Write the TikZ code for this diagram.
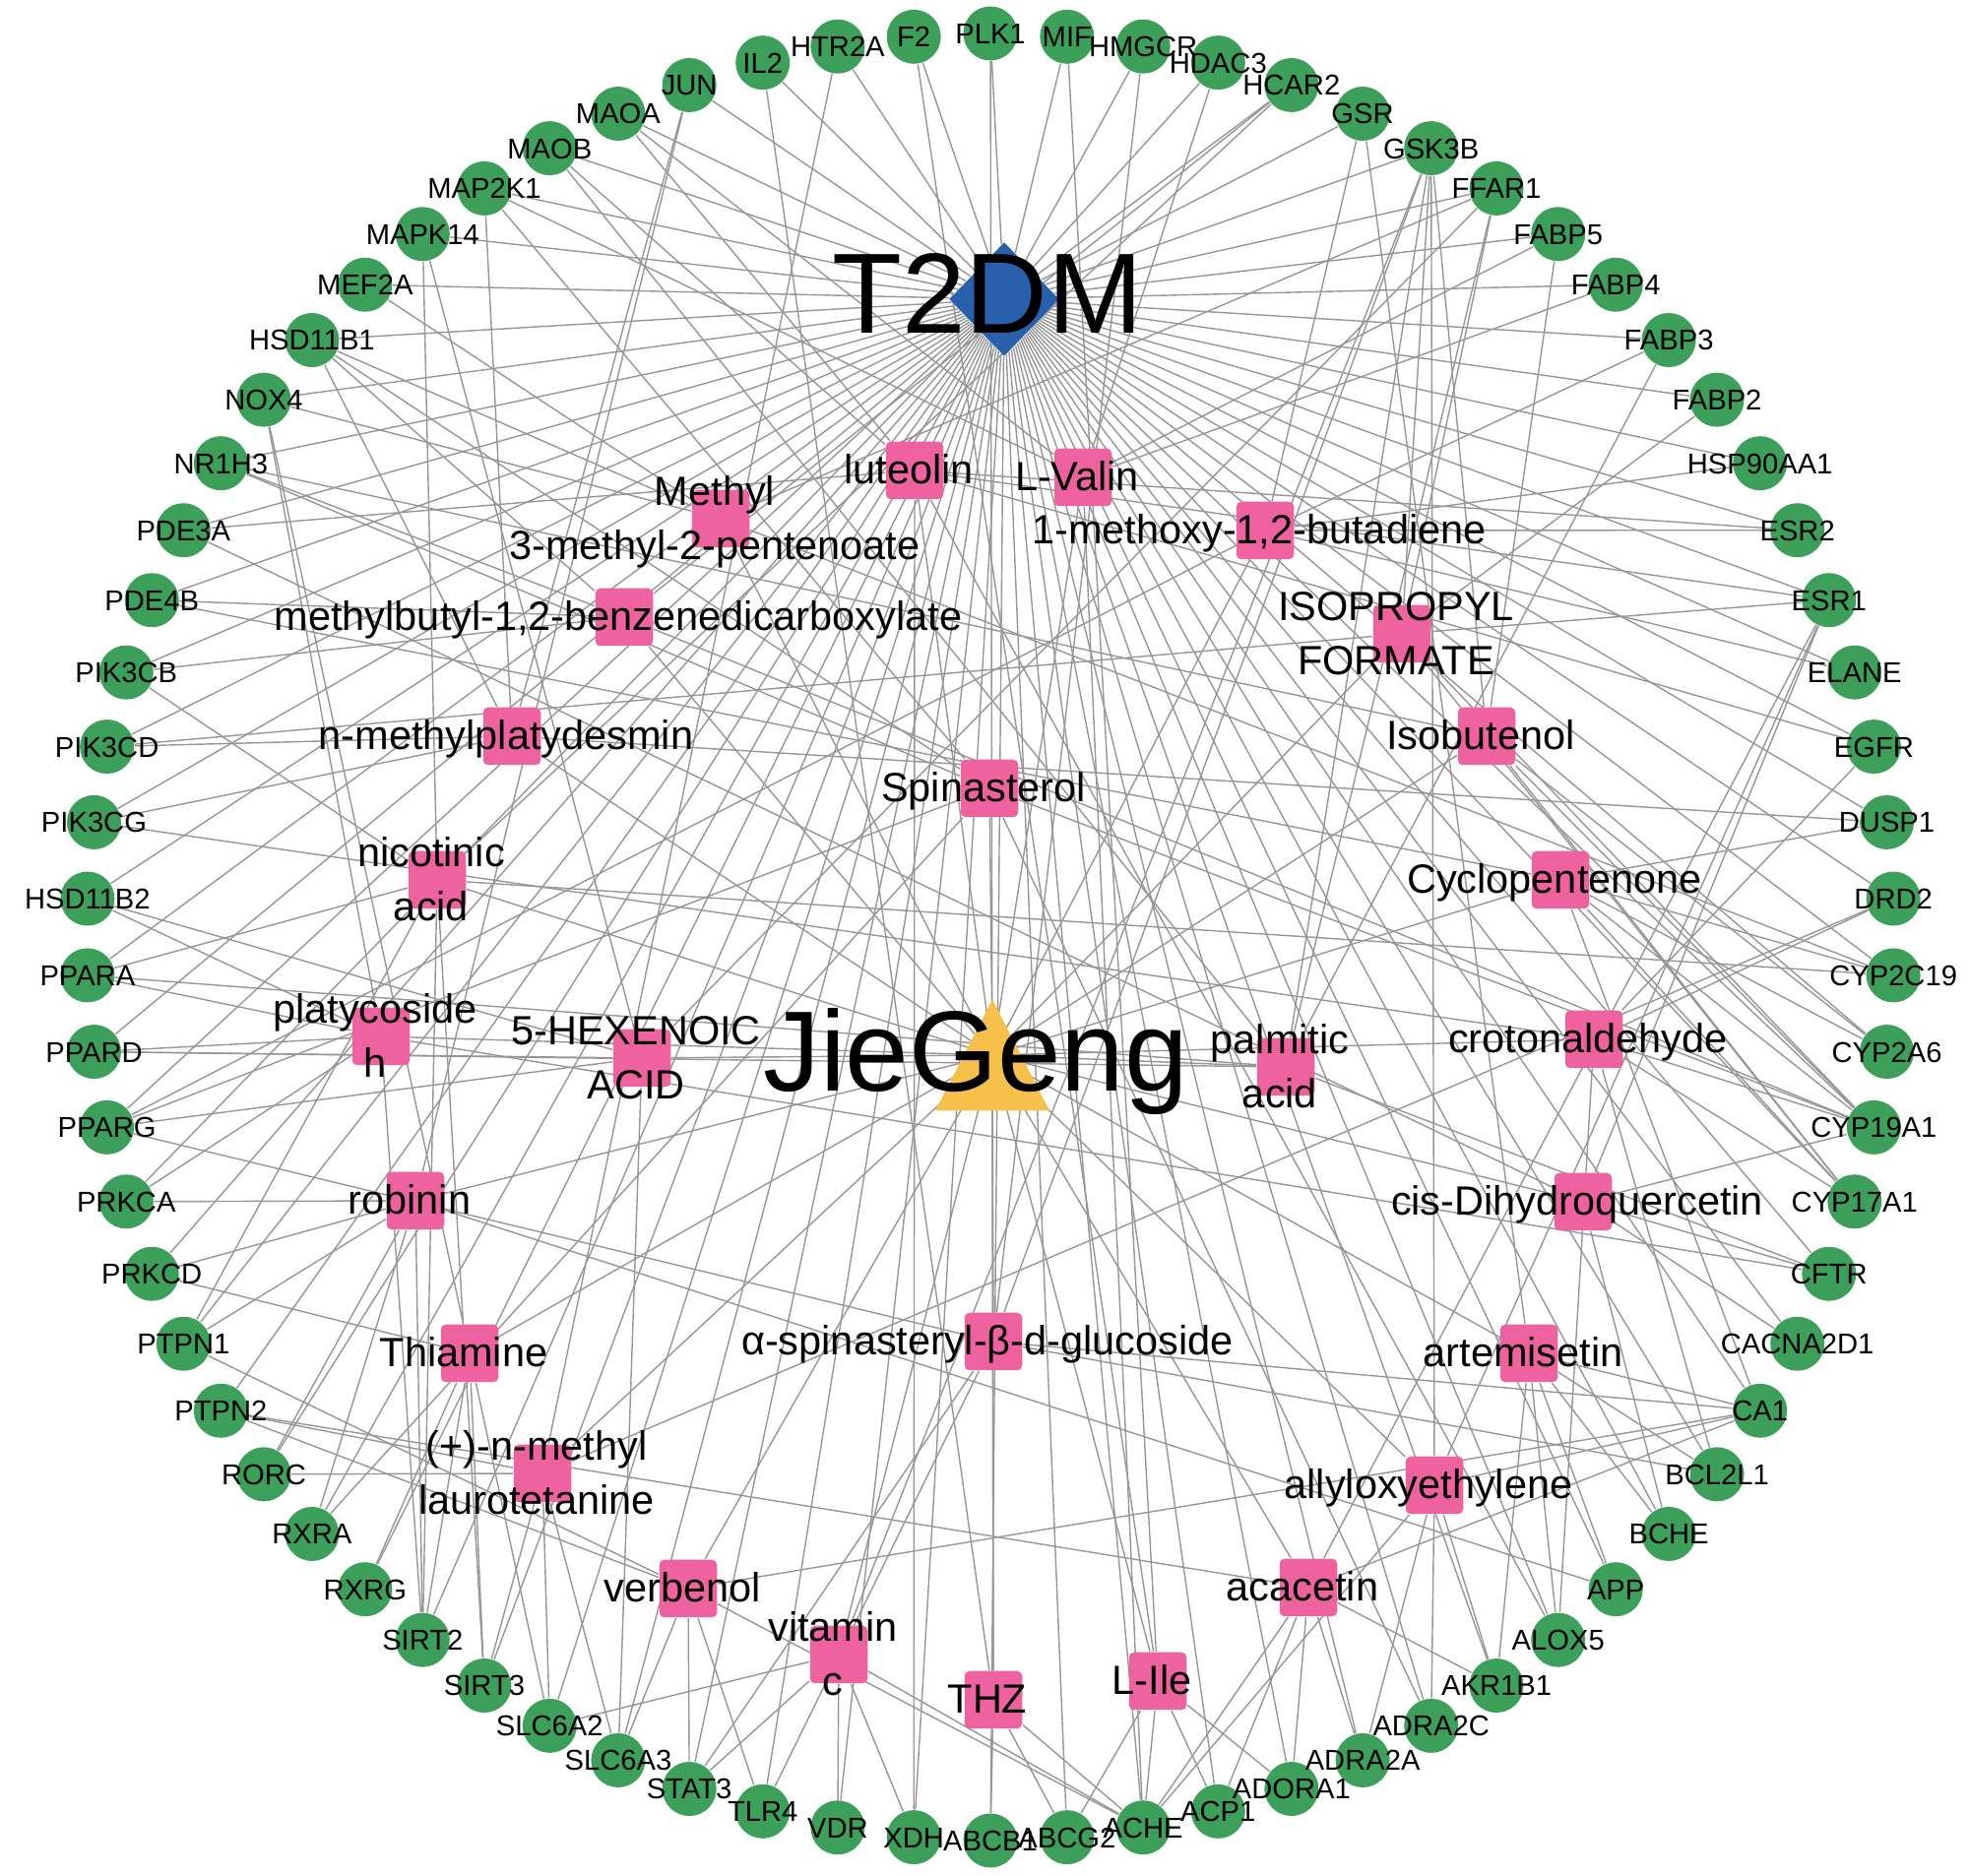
\documentclass[tikz,border=0pt]{standalone}
\usepackage{fontspec}
\setmainfont{Liberation Sans}
\usetikzlibrary{shapes.geometric,calc}
\pgfdeclarelayer{bg}
\pgfsetlayers{bg,main}
\definecolor{tgreen}{RGB}{60,160,90}
\definecolor{cpink}{RGB}{238,98,160}
\definecolor{dblue}{RGB}{40,96,172}
\definecolor{hyel}{RGB}{246,192,74}
\definecolor{edgegray}{RGB}{150,150,150}
\begin{document}
\begin{tikzpicture}[
  tgt/.style={circle,fill=tgreen,minimum size=0.55cm,inner sep=0pt},
  tlab/.style={font=\fontsize{8.3pt}{9pt}\selectfont,text height=5.94pt,text depth=0pt,inner sep=0pt},
  cmp/.style={rectangle,rounded corners=0.05cm,fill=cpink,minimum size=0.585cm,inner sep=0pt},
  clab/.style={font=\fontsize{11.8pt}{14pt}\selectfont,text height=7.8pt,text depth=0pt,inner sep=0pt,xshift=-0.06cm},
  biglab/.style={font=\fontsize{33pt}{36pt}\selectfont,text height=23.6pt,text depth=0pt,inner sep=0pt},
  lnk/.style={draw=edgegray,line width=0.4pt},
]
\useasboundingbox (0,0) rectangle (20,19.06);
\def\targets{ABCB1,ABCG2,ACHE,ACP1,ADORA1,ADRA2A,ADRA2C,AKR1B1,ALOX5,APP,BCHE,BCL2L1,CA1,CACNA2D1,CFTR,CYP17A1,CYP19A1,CYP2A6,CYP2C19,DRD2,DUSP1,EGFR,ELANE,ESR1,ESR2,HSP90AA1,FABP2,FABP3,FABP4,FABP5,FFAR1,GSK3B,GSR,HCAR2,HDAC3,HMGCR,MIF,PLK1,F2,HTR2A,IL2,JUN,MAOA,MAOB,MAP2K1,MAPK14,MEF2A,HSD11B1,NOX4,NR1H3,PDE3A,PDE4B,PIK3CB,PIK3CD,PIK3CG,HSD11B2,PPARA,PPARD,PPARG,PRKCA,PRKCD,PTPN1,PTPN2,RORC,RXRA,RXRG,SIRT2,SIRT3,SLC6A2,SLC6A3,STAT3,TLR4,VDR,XDH}
% targets on the ring
\begin{scope}[shift={(10.06,9.54)}]
\foreach \n [count=\i from 0] in \targets
  \node[tgt] (\n) at ({-90+\i*4.864865}:9.18) {};
\end{scope}
% compounds
\node[cmp] (lut) at (9.29,14.28) {};
\node[cmp] (val) at (11.00,14.21) {};
\node[cmp] (mpe) at (7.32,13.79) {};
\node[cmp] (mbd) at (12.85,13.67) {};
\node[cmp] (mbb) at (6.34,12.79) {};
\node[cmp] (ipf) at (14.24,12.62) {};
\node[cmp] (nmp) at (5.20,11.58) {};
\node[cmp] (isob) at (15.10,11.58) {};
\node[cmp] (spin) at (10.05,11.05) {};
\node[cmp] (nic) at (4.44,10.12) {};
\node[cmp] (cyc) at (15.85,10.12) {};
\node[cmp] (plh) at (3.87,8.53) {};
\node[cmp] (hex) at (6.52,8.31) {};
\node[cmp] (pal) at (13.06,8.22) {};
\node[cmp] (cro) at (16.19,8.50) {};
\node[cmp] (rob) at (4.22,6.86) {};
\node[cmp] (cdq) at (16.08,6.85) {};
\node[cmp] (thi) at (4.77,5.31) {};
\node[cmp] (asg) at (10.09,5.43) {};
\node[cmp] (art) at (15.53,5.31) {};
\node[cmp] (nml) at (5.51,4.09) {};
\node[cmp] (ally) at (14.57,3.97) {};
\node[cmp] (verb) at (6.99,2.92) {};
\node[cmp] (aca) at (13.29,2.93) {};
\node[cmp] (vitc) at (8.52,2.25) {};
\node[cmp] (thz) at (10.09,1.79) {};
\node[cmp] (ile) at (11.76,1.98) {};
% disease and herb
\node[diamond,fill=dblue,minimum width=1.12cm,minimum height=1.16cm,inner sep=0pt] (T2DM) at (10.20,16.02) {};
\coordinate (JG) at (10.08,8.34);
\fill[hyel] ($(JG)+(0,0.565)$) -- ($(JG)+(0.58,-0.565)$) -- ($(JG)+(-0.58,-0.565)$) -- cycle;
% edges
\begin{pgfonlayer}{bg}
\foreach \n in \targets \draw[lnk] (T2DM) -- (\n);
\foreach \c in {lut,val,mpe,mbd,mbb,ipf,nmp,isob,spin,nic,cyc,plh,hex,pal,cro,rob,cdq,thi,asg,art,nml,ally,verb,aca,vitc,thz,ile}
  \draw[lnk] (JG) -- (\c);
\foreach \c/\ts in {
  lut/{MAOA,MAOB,PDE3A,ESR1,ESR2,XDH,EGFR,ALOX5},
  val/{MAOA,MAP2K1,FABP4,FABP5,ACHE,HDAC3},
  mpe/{HSD11B1,NOX4,MEF2A,FFAR1,CYP2C19},
  mbd/{GSR,FABP3,HSP90AA1,ESR2,ELANE,PPARG},
  mbb/{HSD11B1,NR1H3,PDE4B,PIK3CB,HCAR2,CYP19A1},
  ipf/{GSK3B,FFAR1,FABP2,ESR1,CYP19A1,CYP17A1,PIK3CD},
  nmp/{MAP2K1,JUN,PIK3CD,PIK3CG,HSD11B1,DUSP1},
  isob/{GSK3B,FABP5,CYP2A6,CYP19A1,CYP17A1,NR1H3},
  spin/{MAP2K1,HSD11B1,NR1H3,PPARG,CYP19A1,RXRA,ADRA2C},
  nic/{MAPK14,HCAR2,PIK3CB,PPARA,PTPN1,SIRT2,SIRT3,CYP2C19},
  cyc/{DUSP1,CYP2C19,CYP2A6,CYP19A1,CYP17A1,PDE4B,CA1},
  plh/{HSD11B2,PPARA,PPARD,PRKCA,NOX4,SIRT2,CFTR},
  hex/{MAPK14,PPARD,PPARG,HSD11B2,FFAR1,SLC6A3},
  pal/{PPARD,PPARA,FABP3,FFAR1,GSK3B,MAOB,CFTR},
  cro/{DRD2,EGFR,CYP17A1,CYP19A1,ALOX5,BCL2L1,PIK3CG},
  rob/{JUN,PTPN1,PRKCA,PRKCD,RORC,RXRA,SIRT2,APP},
  cdq/{CACNA2D1,CFTR,BCHE,CYP19A1,ESR1,PDE3A},
  thi/{PRKCD,RXRG,SIRT2,SIRT3,NOX4,SLC6A2},
  asg/{GSK3B,HMGCR,TLR4,STAT3,BCL2L1,CA1,PPARG},
  art/{GSR,BCHE,BCL2L1,CA1,ALOX5,AKR1B1,APP},
  nml/{PTPN2,RORC,SIRT3,SLC6A2,SLC6A3,DRD2,HTR2A},
  ally/{GSK3B,CA1,AKR1B1,ADRA2C,ADRA2A,ACHE,ESR1},
  verb/{PTPN1,PTPN2,STAT3,TLR4,SLC6A3,CA1,ACHE},
  aca/{ADRA2A,ADORA1,AKR1B1,CA1,ACHE,ACP1,ESR1,PTPN2},
  vitc/{GSK3B,VDR,STAT3,ACHE,XDH,SLC6A2},
  thz/{ABCB1,ABCG2,ACHE,IL2,PLK1},
  ile/{ACHE,ACP1,ABCG2,ADORA1,F2,MIF}}
  \foreach \t in \ts \draw[lnk] (\c) -- (\t);
\end{pgfonlayer}
% target labels
\foreach \n in \targets \node[tlab] (\n-l) at (\n) {\n};
% compound labels
\node[clab] (lut-l) at (lut) {luteolin};
\node[clab] (val-l) at (val) {L-Valin};
\node[clab,yshift=0.275cm] (mpe-l1) at (mpe) {Methyl};
\node[clab,yshift=-0.275cm] (mpe-l2) at (mpe) {3-methyl-2-pentenoate};
\node[clab] (mbd-l) at (mbd) {1-methoxy-1,2-butadiene};
\node[clab] (mbb-l) at (mbb) {methylbutyl-1,2-benzenedicarboxylate};
\node[clab,yshift=0.275cm] (ipf-l1) at (ipf) {ISOPROPYL};
\node[clab,yshift=-0.275cm] (ipf-l2) at (ipf) {FORMATE};
\node[clab] (nmp-l) at (nmp) {n-methylplatydesmin};
\node[clab] (isob-l) at (isob) {Isobutenol};
\node[clab] (spin-l) at (spin) {Spinasterol};
\node[clab,yshift=0.275cm] (nic-l1) at (nic) {nicotinic};
\node[clab,yshift=-0.275cm] (nic-l2) at (nic) {acid};
\node[clab] (cyc-l) at (cyc) {Cyclopentenone};
\node[clab,yshift=0.275cm] (plh-l1) at (plh) {platycoside};
\node[clab,yshift=-0.275cm] (plh-l2) at (plh) {h};
\node[clab,yshift=0.275cm] (hex-l1) at (hex) {5-HEXENOIC};
\node[clab,yshift=-0.275cm] (hex-l2) at (hex) {ACID};
\node[clab,yshift=0.275cm] (pal-l1) at (pal) {palmitic};
\node[clab,yshift=-0.275cm] (pal-l2) at (pal) {acid};
\node[clab] (cro-l) at (cro) {crotonaldehyde};
\node[clab] (rob-l) at (rob) {robinin};
\node[clab] (cdq-l) at (cdq) {cis-Dihydroquercetin};
\node[clab] (thi-l) at (thi) {Thiamine};
\node[clab] (asg-l) at (asg) {α-spinasteryl-β-d-glucoside};
\node[clab] (art-l) at (art) {artemisetin};
\node[clab,yshift=0.275cm] (nml-l1) at (nml) {(+)-n-methyl};
\node[clab,yshift=-0.275cm] (nml-l2) at (nml) {laurotetanine};
\node[clab] (ally-l) at (ally) {allyloxyethylene};
\node[clab] (verb-l) at (verb) {verbenol};
\node[clab] (aca-l) at (aca) {acacetin};
\node[clab,yshift=0.275cm] (vitc-l1) at (vitc) {vitamin};
\node[clab,yshift=-0.275cm] (vitc-l2) at (vitc) {c};
\node[clab] (thz-l) at (thz) {THZ};
\node[clab] (ile-l) at (ile) {L-Ile};
% big labels
\node[biglab,xshift=-0.17cm,yshift=0.07cm] (T2DM-l) at (T2DM) {T2DM};
\node[biglab,xshift=-0.17cm,yshift=0.05cm] (JG-l) at (JG) {JieGeng};
\end{tikzpicture}
\end{document}
